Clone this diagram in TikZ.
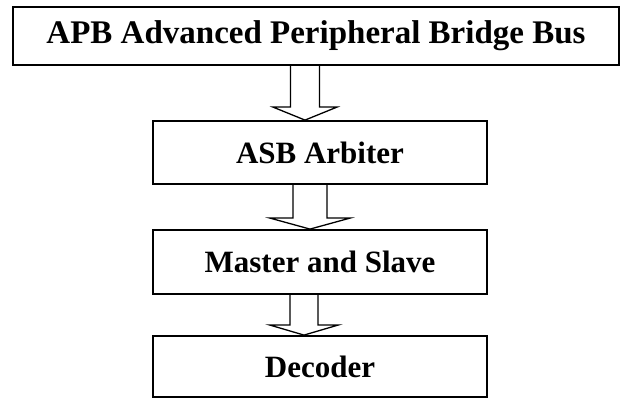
\documentclass[tikz,border=0pt]{standalone}
\usepackage{fontspec}
\setmainfont{Liberation Serif}
\usetikzlibrary{calc}

\begin{document}
\begin{tikzpicture}[x=1pt,y=1pt,
  blockbox/.style={draw,line width=1.8pt,rectangle,inner sep=0pt,
    minimum width=334,font=\fontsize{31}{37}\selectfont\bfseries},
  hollowarrow/.style={line width=1.3pt,line join=miter}]%
  \useasboundingbox (0,0) rectangle (621,398);

  % Boxes, top to bottom.
  \node[blockbox,minimum width=606,minimum height=58,font=\fontsize{33}{39}\selectfont\bfseries] (apb) at (316,362) {APB Advanced Peripheral Bridge Bus};
  \node[blockbox,minimum height=63] (asb) at (320,245.5) {ASB Arbiter};
  \node[blockbox,minimum height=64] (ms) at (320,136) {Master and Slave};
  \node[blockbox,minimum height=61] (dec) at (320,31.5) {Decoder};

  % Hollow arrows: shift of the tip, half shaft, half head, head height.
  \foreach \a/\b/\dx/\sw/\hw/\hh in {apb/asb/-15/14.5/32/13, asb/ms/-10/17/40/11, ms/dec/-16/14/34/10}{
    \coordinate (tip) at ($(\b.north)+(\dx,0)$);
    \coordinate (top) at (tip |- \a.south);
    \draw[hollowarrow] ($(top)+(-\sw,0)$) -- ($(tip)+(-\sw,\hh)$) -- ($(tip)+(-\hw,\hh)$)
      -- (tip) -- ($(tip)+(\hw,\hh)$) -- ($(tip)+(\sw,\hh)$) -- ($(top)+(\sw,0)$);
  }
\end{tikzpicture}
\end{document}
